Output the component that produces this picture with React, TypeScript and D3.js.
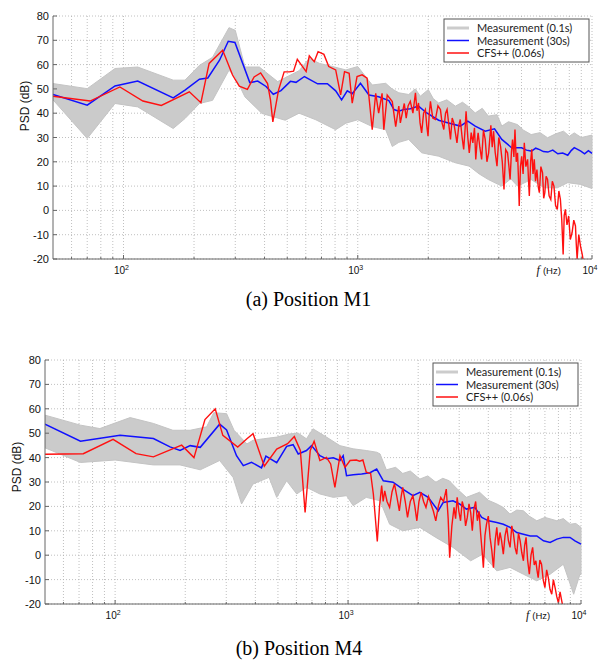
import React from 'react';
import * as d3 from 'd3';

// [frequency (Hz), PSD (dB)]

// Position M1
const m1Blue: [number, number][] = [
  [50, 47.7], [70, 43.3], [92, 51.2], [115, 53.2], [163, 46.3], [183, 49.5], [211, 54], [229, 54.5],
  [257, 61.8], [280, 69.6], [299, 69.1], [346, 52.6], [374, 53.2], [406, 51], [436, 47.8], [470, 49.3],
  [516, 53.1], [545, 52.7], [592, 55.1], [674, 52.1], [742, 52.1], [805, 49.2], [853, 45.5], [902, 49.2],
  [947, 48], [1027, 52.3], [1116, 47.5], [1228, 46.8], [1358, 45.2], [1428, 41.5], [1497, 40.8],
  [1571, 41.5], [1676, 41.8], [1817, 42.9], [1970, 40.1], [2214, 37.1], [2439, 36], [2739, 34.7],
  [2950, 36.7], [3173, 34.7], [3500, 32.6], [3836, 33.6], [4120, 29.2], [4540, 25.8], [5005, 25.8],
  [5250, 24.8], [5520, 24.4], [5750, 25.6], [5975, 25], [6200, 24.2], [6480, 24], [6800, 24.8],
  [7145, 23.3], [7500, 23.6], [7880, 22.7], [8150, 24.6], [8400, 25.8], [8960, 24.4], [9300, 23.3],
  [9650, 24.6], [10000, 23.5],
];

const m1Red: [number, number][] = [
  [50, 47], [72, 45], [96.5, 50.8], [121, 45], [145, 43.2], [191, 48.8], [214, 44.3], [232, 60.5],
  [265, 65.9], [292, 55.7], [312, 51.1], [338, 49.8], [361, 54.9], [385, 56.6], [412, 52.2], [424, 45.5],
  [434, 36.4], [459, 49.5], [485, 57], [510, 57], [532, 57.3], [552, 62.2], [602, 57.1], [621, 63.6],
  [652, 61.2], [677, 65.3], [717, 64.2], [752, 59.2], [805, 57.8], [845, 47.5], [878, 57.1], [919, 56.4],
  [947, 44.1], [993, 55.1], [1044, 55.8], [1096, 54.4], [1153, 33.2], [1193, 48.2], [1228, 40],
  [1270, 48.2], [1292, 33.2], [1336, 47.5], [1404, 44.8], [1452, 34.5], [1497, 42.9], [1520, 36],
  [1550, 40.1], [1580, 44], [1610, 38], [1640, 43], [1676, 44.9], [1720, 40], [1763, 48.4], [1790, 41],
  [1817, 44.2], [1845, 36], [1874, 31.9], [1910, 40], [1944, 41.5], [1970, 35], [1995, 30.5], [2020, 40],
  [2043, 44.9], [2090, 38], [2145, 37.4], [2200, 43], [2254, 41.5], [2290, 36], [2330, 33.3], [2370, 40],
  [2406, 41.5], [2450, 35], [2488, 29.2], [2530, 38], [2571, 36], [2610, 32], [2652, 27.8], [2700, 35],
  [2739, 37.4], [2790, 30], [2833, 25.1], [2870, 33], [2900, 40.8], [2950, 30], [2993, 23.7], [3050, 32],
  [3100, 27.8], [3150, 34], [3190, 21], [3230, 28], [3265, 31.9], [3320, 26], [3380, 21], [3440, 33],
  [3500, 29.2], [3560, 20], [3620, 23.7], [3700, 35], [3750, 26], [3800, 32.6], [3860, 24], [3930, 18.2],
  [4000, 30], [4070, 26.4], [4140, 20], [4210, 8.6], [4280, 25], [4360, 23.7], [4420, 18], [4470, 12.7],
  [4530, 24], [4580, 29.2], [4640, 22], [4690, 33.3], [4750, 20], [4810, 23.7], [4850, 14], [4890, 1.8],
  [4950, 18], [5010, 22.3], [5080, 15], [5140, 27.8], [5220, 18], [5310, 21], [5360, 12], [5400, 5.9],
  [5470, 20], [5530, 25.1], [5600, 15], [5670, 21], [5740, 12], [5820, 16.8], [5890, 10], [5960, 7.3],
  [6050, 18], [6150, 15.5], [6220, 5], [6290, 7.3], [6370, 14], [6460, 12.7], [6560, 6], [6670, 4.5],
  [6770, 12], [6880, 10], [6990, 2], [7110, 0.4], [7220, 8], [7330, 4.5], [7430, -4], [7530, -18.1],
  [7610, -2], [7700, 0.4], [7820, -6], [7950, -2.3], [8080, -12], [8220, -9.2], [8360, -4], [8500, -6.4],
  [8570, -14], [8640, -20], [8780, -10], [8930, -14.7], [9080, -18], [9220, -22],
];

const m1GrayHi: [number, number][] = [
  [50, 52.2], [70, 50.1], [92, 58.4], [115, 59], [163, 53.6], [183, 53.6], [211, 59.7], [240, 63],
  [282, 75.2], [300, 74.1], [330, 59], [380, 59], [455, 53], [562, 57.5], [621, 62.6], [686, 60.5],
  [781, 59.2], [890, 57.8], [1000, 59.2], [1153, 51.6], [1316, 52.3], [1400, 50], [1497, 48.4],
  [1650, 47.7], [1760, 50], [1850, 47], [2000, 49.7], [2100, 46], [2214, 44.2], [2400, 45.5],
  [2610, 42.9], [2800, 44.5], [2950, 42.9], [3173, 40.1], [3400, 42], [3610, 38.8], [3930, 39.4],
  [4120, 34.7], [4400, 36.5], [4810, 35.3], [5100, 33], [5500, 31.2], [6000, 32], [6460, 29.9],
  [7000, 31.5], [7560, 32.6], [8000, 30.5], [8400, 31.9], [9000, 30], [9500, 30.5], [10000, 31],
];

const m1GrayLo: [number, number][] = [
  [50, 45.5], [70, 29.6], [92, 44], [115, 42.6], [163, 33.7], [183, 37.8], [211, 44], [240, 45.3],
  [282, 57.7], [300, 54.9], [330, 46.7], [390, 39.9], [490, 37.1], [562, 40], [662, 37.3], [805, 33.2],
  [890, 35.9], [1000, 37.3], [1153, 34.5], [1316, 33.2], [1404, 26.3], [1497, 28], [1650, 29.2],
  [1874, 23.7], [2214, 22.3], [2610, 19.6], [2993, 18.2], [3300, 15], [3610, 12.7], [4120, 10],
  [4500, 13], [4810, 10], [5500, 12.7], [6250, 9.3], [7110, 9.3], [7880, 11.4], [8930, 10.7], [10000, 9],
];

// Position M4
const m4Blue: [number, number][] = [
  [50, 53.7], [71, 46.7], [105, 49.2], [146, 47.8], [172, 44.4], [190, 42.9], [210, 44.9], [232, 44.2],
  [281, 53.7], [301, 51.3], [332, 40.8], [355, 36.7], [385, 38.1], [425, 35.8], [444, 40.6], [494, 37.9],
  [545, 44.6], [581, 45.3], [611, 41.5], [663, 42.9], [697, 44.9], [757, 40.8], [808, 39.5], [864, 39.9],
  [923, 38.8], [953, 40.8], [985, 32.6], [1052, 33], [1144, 33.3], [1242, 33.8], [1327, 35.3],
  [1417, 30.5], [1559, 29.9], [1718, 27.1], [1898, 24.4], [2034, 25.8], [2208, 23.7], [2438, 18.2],
  [2560, 21.6], [2820, 22.3], [3010, 21], [3220, 18.9], [3500, 19.6], [3750, 15.5], [4010, 14.1],
  [4350, 13.4], [4640, 12.7], [4960, 11.4], [5300, 9.3], [5660, 8.6], [6050, 7.9], [6460, 7.9],
  [6900, 5.9], [7370, 5.2], [7880, 6.6], [8400, 7.3], [8970, 7.3], [9420, 5.9], [10000, 4.5],
];

const m4Red: [number, number][] = [
  [50, 41.4], [73, 41.6], [98, 47.5], [123, 41.6], [146, 40.3], [193, 45.1], [218, 40], [243, 55.6],
  [269, 60], [290, 49.1], [336, 44.3], [368, 47.7], [391, 49.8], [437, 36.5], [494, 43.5], [550, 45.7],
  [588, 48.6], [624, 42.9], [654, 17.5], [688, 42.9], [715, 46.7], [757, 38.8], [808, 40.1], [842, 37.4],
  [878, 27.8], [923, 40.8], [970, 36], [1020, 38.8], [1085, 39], [1121, 38.5], [1158, 39], [1197, 34],
  [1250, 33.5], [1284, 25.1], [1335, 5.6], [1365, 20], [1394, 28.5], [1415, 22], [1437, 26.4], [1470, 22],
  [1508, 19.6], [1545, 26], [1582, 29.2], [1620, 24], [1660, 18.2], [1690, 24], [1717, 27.8], [1760, 22],
  [1800, 15.5], [1850, 22], [1898, 24.4], [1935, 20], [1974, 14.1], [2015, 22], [2060, 25.8], [2110, 22],
  [2160, 19.6], [2215, 24], [2270, 21], [2325, 18], [2380, 14.1], [2440, 20], [2500, 23.7], [2570, 22],
  [2640, 27.1], [2690, 15], [2730, -1], [2790, 12], [2850, 19.6], [2895, 15], [2940, 23.7], [2990, 18],
  [3040, 14.1], [3090, 22], [3140, 19.6], [3195, 12], [3250, 15.5], [3305, 21], [3360, 17.5], [3415, 10],
  [3470, 18.9], [3530, 22], [3590, 14.1], [3650, 18], [3710, 8.6], [3760, 2], [3810, -5.1], [3870, 8],
  [3930, 12.7], [4000, 16], [4070, 7.3], [4140, 2], [4210, -5.1], [4280, 6], [4350, 11.4], [4420, 4],
  [4490, 9.3], [4560, 6], [4640, 0.4], [4720, 8], [4800, 11.4], [4880, 6], [4960, 3.2], [5045, 12],
  [5130, 8.6], [5215, 3], [5300, 0.4], [5390, 9], [5480, 5.9], [5570, 1], [5660, -2.3], [5730, 4],
  [5810, 7.3], [5900, -2], [6000, -7.8], [6100, 0], [6200, 3.2], [6300, -4], [6400, -2.3], [6470, -6],
  [6550, -9.2], [6660, -2], [6770, -3.7], [6880, -10], [7000, -13.3], [7120, -6], [7240, -9.2],
  [7360, -14], [7490, -16], [7610, -10], [7740, -13.3], [7870, -17], [8000, -19.5], [8130, -15],
  [8270, -18.8], [8400, -22],
];

const m4GrayHi: [number, number][] = [
  [50, 57.4], [71, 53.3], [86, 51.9], [116, 56.4], [146, 54], [177, 51.2], [210, 51.2], [247, 52.6],
  [265, 58.4], [301, 58], [324, 51.2], [368, 45.6], [391, 47.1], [433, 47.7], [494, 48.4], [560, 49.7],
  [611, 50], [663, 47.7], [707, 51.8], [808, 48.4], [923, 44.9], [1052, 43.6], [1197, 42.9],
  [1327, 42.2], [1372, 41.5], [1460, 35], [1600, 36], [1717, 33.5], [1850, 34.5], [2034, 31.2],
  [2200, 32.5], [2380, 29.9], [2550, 31.5], [2720, 30.5], [2950, 27], [3220, 23.7], [3670, 25.8],
  [4000, 22.5], [4350, 21], [4650, 19.5], [4960, 16.8], [5300, 18.5], [5660, 18.2], [6000, 16],
  [6460, 14.1], [7000, 15.5], [7880, 14.1], [8400, 15], [8970, 12.7], [9500, 13], [10000, 11.4],
];

const m4GrayLo: [number, number][] = [
  [50, 44], [71, 38], [100, 39], [146, 37], [190, 37], [232, 35], [281, 38.8], [321, 31.9], [349, 21],
  [391, 29.2], [458, 31.9], [494, 23.7], [545, 30.5], [602, 25.1], [663, 27.8], [757, 25.1],
  [864, 23.7], [985, 24.4], [1052, 20.3], [1197, 23.7], [1372, 22.3], [1508, 12.7], [1717, 10],
  [2034, 11.4], [2380, 7.3], [2820, 3.2], [3360, -2.3], [3780, 0.4], [4350, -6.4], [4960, -5],
  [5660, -7.8], [6460, -10.5], [7370, -7.8], [8400, -3.7], [9300, -16], [9900, -7.8], [10000, -8],
];

const yTicks = [-20, -10, 0, 10, 20, 30, 40, 50, 60, 70, 80];
const xMajor = [100, 1000, 10000];
const xMajorExp = ['2', '3', '4'];
const xGrid = [60, 70, 80, 90, 100, 200, 300, 400, 500, 600, 700, 800, 900, 1000,
  2000, 3000, 4000, 5000, 6000, 7000, 8000, 9000, 10000];
const legendLabels = ['Measurement  (0.1s)', 'Measurement  (30s)', 'CFS++ (0.06s)'];
const legendColors = ['#cccccc', '#1010ff', '#ff1010'];

const sans = "'Liberation Sans', Arial, sans-serif";
const serif = "'Liberation Serif', 'Times New Roman', 'DejaVu Serif', serif";

function Panel(props: any) {
  const { id, left, right, top, bottom, blue, red, hi, lo, legend, ylabelY, caption, captionY } = props;
  const x = d3.scaleLog().domain([50, 10000]).range([left, right]);
  const y = d3.scaleLinear().domain([-20, 80]).range([bottom, top]);
  const line = d3.line<[number, number]>().x(d => x(d[0])).y(d => y(d[1]));
  const band = line(hi.concat(lo.slice().reverse())) + 'Z';

  return (
    <g>
      <defs>
        <clipPath id={'clip' + id}>
          <rect x={left} y={top - 2} width={right - left + 2} height={bottom - top + 2} />
        </clipPath>
      </defs>

      {/* grid */}
      {yTicks.map(t => (
        <line key={'gy' + t} x1={left} x2={right} y1={y(t)} y2={y(t)}
          stroke="#b0b0b0" strokeWidth={0.8} strokeDasharray="1,2" />
      ))}
      {xGrid.map(t => (
        <line key={'gx' + t} x1={x(t)} x2={x(t)} y1={top} y2={bottom}
          stroke="#b0b0b0" strokeWidth={0.8} strokeDasharray="1,2" />
      ))}

      <g clipPath={`url(#clip${id})`}>
        <path d={band} fill="#cbcbcb" stroke="#c4c4c4" strokeWidth={1} strokeLinejoin="round" />
        <path d={line(blue) || ''} fill="none" stroke="#1010ff" strokeWidth={1.5} />
        <path d={line(red) || ''} fill="none" stroke="#ff1010" strokeWidth={1.4} />
      </g>

      {/* axes */}
      <line x1={left} x2={left} y1={top} y2={bottom} stroke="#666" strokeWidth={1} />
      <line x1={left} x2={right} y1={bottom} y2={bottom} stroke="#666" strokeWidth={1} />
      {yTicks.map(t => (
        <g key={'ty' + t}>
          <line x1={left} x2={left + 4} y1={y(t)} y2={y(t)} stroke="#666" />
          <text x={left - 4} y={y(t) + 4} textAnchor="end" fontFamily={sans} fontSize={11}
            fill="#111">{t}</text>
        </g>
      ))}
      {xGrid.map(t => (
        <line key={'tx' + t} x1={x(t)} x2={x(t)} y1={bottom} y2={bottom - (xMajor.includes(t) ? 4 : 2)}
          stroke="#666" />
      ))}
      {xMajor.map((t, i) => (
        <text key={'lx' + t} x={x(t) - 2} y={bottom + 15} textAnchor="middle" fontFamily={sans}
          fontSize={10} fill="#111">
          10<tspan fontSize={7} dy={-4}>{xMajorExp[i]}</tspan>
        </text>
      ))}
      <text x={x(5800)} y={bottom + 15} fontSize={11} fill="#111">
        <tspan fontFamily={serif} fontStyle="italic" fontSize={12}>f</tspan>
        <tspan fontFamily={sans} fontSize={9.5} dx={3}>(Hz)</tspan>
      </text>
      <text transform={`translate(${left - 24},${ylabelY}) rotate(-90)`} textAnchor="middle"
        fontFamily={sans} fontSize={12} fill="#111">PSD (dB)</text>

      {/* legend */}
      <rect x={legend.x} y={legend.y} width={145} height={43} fill="#fff" stroke="#555" strokeWidth={1} />
      {legendLabels.map((lab, i) => (
        <g key={lab}>
          <line x1={legend.x + 3} x2={legend.x + 25} y1={legend.y + 9 + i * 12.5}
            y2={legend.y + 9 + i * 12.5} stroke={legendColors[i]} strokeWidth={i === 0 ? 3 : 1.5} />
          <text x={legend.x + 33} y={legend.y + 13 + i * 12.5} fontFamily="Lato, sans-serif"
            fontSize={11} fill="#222">{lab}</text>
        </g>
      ))}

      <text x={(left + right) / 2 - 14} y={captionY} textAnchor="middle"
        fontFamily={serif} fontSize={20} fill="#000">{caption}</text>
    </g>
  );
}

export default function App() {
  return (
    <div style={{ position: 'absolute', left: 0, top: 0 }}>
      <svg width={598} height={660} style={{ display: 'block', background: '#fff' }}>
        <Panel id="a" left={53} right={592} top={16} bottom={259} blue={m1Blue} red={m1Red}
          hi={m1GrayHi} lo={m1GrayLo} legend={{ x: 444, y: 19 }} ylabelY={106}
          caption="(a) Position M1" captionY={306} />
        <Panel id="b" left={45} right={581} top={360} bottom={604} blue={m4Blue} red={m4Red}
          hi={m4GrayHi} lo={m4GrayLo} legend={{ x: 433, y: 363 }} ylabelY={467}
          caption="(b) Position M4" captionY={655} />
      </svg>
    </div>
  );
}
